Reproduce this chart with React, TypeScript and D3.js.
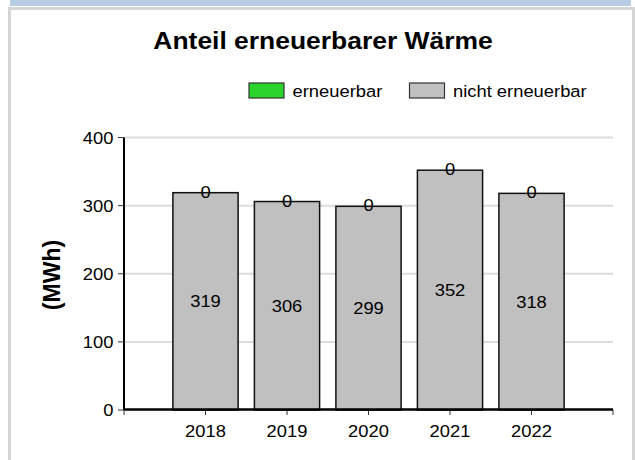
import React from "react";
import * as d3 from "d3";

const YEARS = [2018, 2019, 2020, 2021, 2022];
const RENEWABLE = [0, 0, 0, 0, 0];
const NON_RENEWABLE = [319, 306, 299, 352, 318];
const SERIES = ["erneuerbar", "nicht erneuerbar"];
const SERIES_COLORS = ["#2ad42a", "#c0c0c0"];
const Y_TICKS = [0, 100, 200, 300, 400];

const WIDTH = 635;
const HEIGHT = 460;
const PLOT = { left: 124, right: 613, top: 137.5, bottom: 410 };
const FONT = "'Liberation Sans', Arial, sans-serif";
const SX = 1.08; // the source text is a little wider than plain Arial

const Label = ({ x, y, anchor = "middle", size = 17, weight = "normal", dy = "0", sx = SX, children }: any) => (
  <text
    transform={`translate(${x},${y}) scale(${sx},1)`}
    textAnchor={anchor}
    dy={dy}
    fontSize={size}
    fontWeight={weight}
    fontFamily={FONT}
    fill="#000"
  >
    {children}
  </text>
);

const App = () => {
  const x = d3
    .scaleLinear()
    .domain([YEARS[0] - 1, YEARS[YEARS.length - 1] + 1])
    .range([PLOT.left, PLOT.right]);
  const y = d3.scaleLinear().domain([0, 400]).range([PLOT.bottom, PLOT.top]);
  const step = x(YEARS[1]) - x(YEARS[0]);
  const barW = step * 0.8;
  const xTicks = d3.range(YEARS[0] - 1, YEARS[YEARS.length - 1] + 2);

  return (
    <svg
      width={WIDTH}
      height={HEIGHT}
      style={{ position: "fixed", left: 0, top: 0, background: "#fff" }}
    >
      {/* frame */}
      <rect x={10} y={0} width={621} height={6} fill="#b8cce4" />
      <rect x={8} y={7} width={627} height={460} fill="#d6d6d6" />
      <rect x={11} y={10} width={621} height={460} fill="#fff" />

      <Label x={323} y={48.5} size={23} weight="bold" sx={1.15}>
        Anteil erneuerbarer Wärme
      </Label>

      {/* legend */}
      {SERIES.map((s, i) => {
        const lx = [249, 409.5][i];
        return (
          <g key={s}>
            <rect x={lx} y={83} width={35} height={15} fill={SERIES_COLORS[i]} stroke="#333" strokeWidth={1.2} />
            <Label x={lx + 43.5} y={96.5} anchor="start">
              {s}
            </Label>
          </g>
        );
      })}

      {/* grid */}
      {Y_TICKS.filter((t) => t > 0).map((t) => (
        <line key={t} x1={PLOT.left} x2={PLOT.right} y1={y(t)} y2={y(t)} stroke="#dcdcdc" strokeWidth={2} />
      ))}

      {/* bars */}
      {YEARS.map((yr, i) => {
        const base = NON_RENEWABLE[i];
        const top = base + RENEWABLE[i];
        return (
          <g key={yr}>
            <rect
              x={x(yr) - barW / 2}
              y={y(base)}
              width={barW}
              height={y(0) - y(base)}
              fill={SERIES_COLORS[1]}
              stroke="#111"
              strokeWidth={1.5}
            />
            {RENEWABLE[i] > 0 && (
              <rect
                x={x(yr) - barW / 2}
                y={y(top)}
                width={barW}
                height={y(base) - y(top)}
                fill={SERIES_COLORS[0]}
                stroke="#111"
                strokeWidth={1.5}
              />
            )}
            <Label x={x(yr)} y={y(base / 2)} dy="0.36em">
              {base}
            </Label>
            <Label x={x(yr)} y={y(base + RENEWABLE[i] / 2) - 1} dy="0.36em">
              {RENEWABLE[i]}
            </Label>
          </g>
        );
      })}

      {/* y axis */}
      <line x1={PLOT.left} x2={PLOT.left} y1={PLOT.top} y2={PLOT.bottom} stroke="#000" strokeWidth={2} />
      {Y_TICKS.map((t) => (
        <g key={t}>
          <line x1={PLOT.left - 6} x2={PLOT.left} y1={y(t)} y2={y(t)} stroke="#333" strokeWidth={1} />
          <Label x={113.5} y={y(t)} anchor="end" dy="0.36em">
            {t}
          </Label>
        </g>
      ))}
      <text
        transform={`translate(59.5,275) rotate(-90)`}
        textAnchor="middle"
        fontSize={23}
        fontWeight="bold"
        fontFamily={FONT}
      >
        (MWh)
      </text>

      {/* x axis */}
      {xTicks.map((t) => (
        <line key={t} x1={x(t)} x2={x(t)} y1={PLOT.bottom} y2={PLOT.bottom + 5} stroke="#333" strokeWidth={1} />
      ))}
      <line x1={PLOT.left} x2={PLOT.right} y1={PLOT.bottom - 0.5} y2={PLOT.bottom - 0.5} stroke="#000" strokeWidth={2.5} />
      {YEARS.map((yr) => (
        <Label key={yr} x={x(yr)} y={437}>
          {yr}
        </Label>
      ))}
    </svg>
  );
};

export default App;
